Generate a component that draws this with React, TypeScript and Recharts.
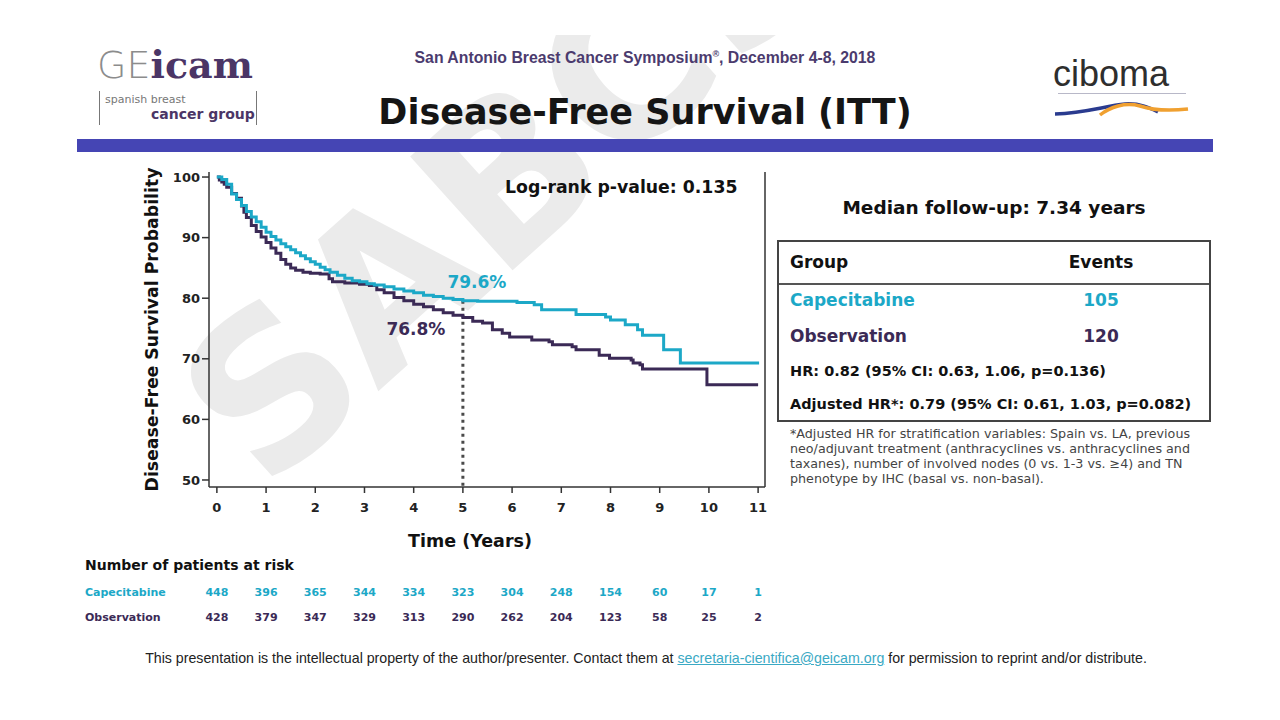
import { LineChart, Line, XAxis, YAxis, ReferenceLine, ReferenceDot, Label } from 'recharts'

// Kaplan-Meier steps (years, % disease-free)
const capeTimes = [0, 0.1, 0.2, 0.3, 0.4, 0.5, 0.6, 0.7, 0.8, 0.9, 1.0, 1.1, 1.2, 1.3, 1.4, 1.5, 1.6, 1.7, 1.8, 1.9, 2.0, 2.1, 2.2, 2.3, 2.45, 2.6, 2.75, 2.9, 3.05, 3.2, 3.4, 3.6, 3.8, 4.0, 4.2, 4.4, 4.6, 4.8, 5.0, 5.3, 6.1, 6.45, 6.6, 7.3, 7.9, 8.0, 8.3, 8.55, 8.65, 9.08, 9.42, 11.02]
const capeSurv = [100, 99.6, 98.8, 97.2, 96.3, 95.3, 94.3, 93.4, 92.6, 91.7, 90.9, 90.2, 89.6, 89.0, 88.5, 88.0, 87.5, 87.0, 86.5, 86.0, 85.6, 85.1, 84.7, 84.3, 83.8, 83.3, 82.9, 82.7, 82.4, 82.2, 81.9, 81.5, 81.2, 80.9, 80.5, 80.3, 80.0, 79.8, 79.6, 79.5, 79.3, 78.9, 78.1, 77.3, 76.9, 76.4, 75.6, 74.8, 73.9, 71.5, 69.3, 69.3]

const obsTimes = [0, 0.05, 0.1, 0.15, 0.2, 0.3, 0.4, 0.5, 0.55, 0.6, 0.7, 0.8, 0.9, 1.0, 1.1, 1.2, 1.3, 1.4, 1.5, 1.6, 1.75, 1.9, 2.1, 2.28, 2.35, 2.6, 2.9, 3.1, 3.25, 3.4, 3.6, 3.8, 4.0, 4.2, 4.4, 4.6, 4.8, 5.0, 5.2, 5.4, 5.6, 5.8, 5.95, 6.4, 6.75, 6.82, 7.22, 7.3, 7.77, 7.98, 8.42, 8.46, 8.6, 8.65, 9.96, 11.0]
const obsSurv = [100, 99.5, 99.2, 98.8, 98.3, 97.3, 96.5, 95.2, 94.2, 93.3, 92.0, 91.0, 90.1, 89.2, 88.3, 87.4, 86.4, 85.6, 85.0, 84.6, 84.3, 84.1, 84.0, 83.2, 82.7, 82.5, 82.3, 82.1, 81.4, 80.9, 80.1, 79.6, 79.0, 78.6, 78.1, 77.6, 77.2, 76.8, 76.2, 75.9, 74.8, 74.2, 73.6, 73.1, 72.8, 72.3, 72.0, 71.5, 70.6, 70.1, 69.8, 69.3, 69.0, 68.3, 65.7, 65.7]

const yearTicks = [0, 1, 2, 3, 4, 5, 6, 7, 8, 9, 10, 11]
const probTicks = [50, 60, 70, 80, 90, 100]

const capeAtRisk = [448, 396, 365, 344, 334, 323, 304, 248, 154, 60, 17, 1]
const obsAtRisk = [428, 379, 347, 329, 313, 290, 262, 204, 123, 58, 25, 2]

const capeRate5y = 79.6
const obsRate5y = 76.8

const CYAN = '#1ca8c7'
const PURPLE = '#3b2a56'
const FONT = '"DejaVu Sans", Verdana, sans-serif'
const ARIAL = '"Liberation Sans", Arial, sans-serif'

const X_MIN = -0.16
const X_MAX = 11.14
const Y_MIN = 48.84
const Y_MAX = 100.83
const PLOT_LEFT = 209
const PLOT_RIGHT = 765

const capeData = capeTimes.map((t, i) => ({ t, s: capeSurv[i] }))
const obsData = obsTimes.map((t, i) => ({ t, s: obsSurv[i] }))

// x position of a year on the page, same mapping as the chart's x scale
function yearX(t: number): number {
  return PLOT_LEFT + ((t - X_MIN) / (X_MAX - X_MIN)) * (PLOT_RIGHT - PLOT_LEFT)
}

function KmChart() {
  return (
    <LineChart
      width={800}
      height={562}
      margin={{ top: 172, right: 800 - PLOT_RIGHT, bottom: 13, left: 151 }}
    >
      <XAxis
        dataKey="t"
        type="number"
        domain={[X_MIN, X_MAX]}
        ticks={yearTicks}
        allowDataOverflow
        height={62}
        tickSize={6}
        tickMargin={10}
        axisLine={{ stroke: '#333', strokeWidth: 1.5 }}
        tickLine={{ stroke: '#333', strokeWidth: 1.5 }}
        tick={{ fill: '#222', fontSize: 13, fontWeight: 700, fontFamily: FONT }}
      >
        <Label
          content={(props: any) => {
            const vb = props.viewBox
            return (
              <text
                x={vb.x + vb.width / 2 - 17}
                y={vb.y + vb.height - 2}
                textAnchor="middle"
                fontSize={17.5}
                fontWeight={700}
                fontFamily={FONT}
                fill="#111"
              >
                Time (Years)
              </text>
            )
          }}
        />
      </XAxis>
      <YAxis
        type="number"
        domain={[Y_MIN, Y_MAX]}
        ticks={probTicks}
        allowDataOverflow
        width={58}
        tickSize={7}
        tickMargin={2}
        axisLine={{ stroke: '#333', strokeWidth: 1.5 }}
        tickLine={{ stroke: '#333', strokeWidth: 1.5 }}
        tick={{ fill: '#222', fontSize: 13, fontWeight: 700, fontFamily: FONT }}
      >
        <Label
          value="Disease-Free Survival Probability"
          angle={-90}
          position="insideLeft"
          offset={1}
          style={{ textAnchor: 'middle', fontSize: 17.3, fontWeight: 700, fontFamily: FONT, fill: '#111' }}
        />
      </YAxis>
      <ReferenceLine x={X_MAX} stroke="#333" strokeWidth={1.5} />
      <ReferenceLine
        segment={[{ x: 5, y: capeRate5y }, { x: 5, y: Y_MIN }]}
        stroke="#4a4a4a"
        strokeWidth={3}
        strokeDasharray="3 4"
      />
      <Line
        data={obsData}
        dataKey="s"
        type="stepAfter"
        stroke={PURPLE}
        strokeWidth={3}
        dot={false}
        isAnimationActive={false}
      />
      <Line
        data={capeData}
        dataKey="s"
        type="stepAfter"
        stroke={CYAN}
        strokeWidth={3}
        dot={false}
        isAnimationActive={false}
      />
      <ReferenceDot
        x={5}
        y={capeRate5y}
        r={0}
        stroke="none"
        label={(props: any) => (
          <text
            x={props.viewBox.x + 14}
            y={props.viewBox.y - 13}
            textAnchor="middle"
            fontSize={17}
            fontWeight={700}
            fontFamily={FONT}
            fill={CYAN}
          >
            {capeRate5y}%
          </text>
        )}
      />
      <ReferenceDot
        x={5}
        y={obsRate5y}
        r={0}
        stroke="none"
        label={(props: any) => (
          <text
            x={props.viewBox.x - 47}
            y={props.viewBox.y + 17}
            textAnchor="middle"
            fontSize={17}
            fontWeight={700}
            fontFamily={FONT}
            fill={PURPLE}
          >
            {obsRate5y}%
          </text>
        )}
      />
    </LineChart>
  )
}

const abs = (left: number, top: number): React.CSSProperties => ({ position: 'absolute', left, top, whiteSpace: 'nowrap' })

export default function App() {
  return (
    <div
      style={{
        position: 'absolute',
        left: 0,
        top: 0,
        width: 1280,
        height: 720,
        background: '#fff',
        overflow: 'hidden',
        fontFamily: FONT,
      }}
    >
      {/* faint watermark, clipped at the slide top like the original */}
      <div style={{ position: 'absolute', left: 0, top: 35, width: 1280, height: 685, overflow: 'hidden' }}>
        <div
          style={{
            ...abs(150, 95),
            fontSize: 210,
            fontWeight: 700,
            color: '#ebebeb',
            transform: 'rotate(-42deg)',
            transformOrigin: '300px 120px',
            lineHeight: 1,
          }}
        >
          SABCS
        </div>
      </div>

      {/* header */}
      <div style={{ ...abs(97, 46), fontSize: 38, lineHeight: 1 }}>
        <span style={{ color: '#8c8c8c', fontWeight: 300, fontFamily: FONT }}>GE</span>
        <span style={{ color: '#4b3566', fontWeight: 700, fontFamily: '"DejaVu Serif", serif' }}>icam</span>
      </div>
      <div style={{ position: 'absolute', left: 99, top: 91, width: 156, height: 34, borderLeft: '1.5px solid #777', borderRight: '1.5px solid #777' }} />
      <div style={{ ...abs(105, 94), fontSize: 11, color: '#777', lineHeight: 1 }}>spanish breast</div>
      <div style={{ ...abs(151, 107), fontSize: 14, fontWeight: 700, color: '#4b3566', lineHeight: 1 }}>cancer group</div>

      <div style={{ ...abs(0, 49), width: 1290, textAlign: 'center', fontFamily: ARIAL, fontSize: 15.8, fontWeight: 700, color: '#4b3b6e' }}>
        San Antonio Breast Cancer Symposium<sup style={{ fontSize: 9 }}>®</sup>, December 4-8, 2018
      </div>
      <div style={{ ...abs(0, 95), width: 1290, textAlign: 'center', fontSize: 35, fontWeight: 700, color: '#151515', lineHeight: 1 }}>
        Disease-Free Survival (ITT)
      </div>

      <div style={{ ...abs(1053, 56), fontFamily: ARIAL, fontSize: 36, color: '#2e2e2e', lineHeight: 1 }}>ciboma</div>
      <div style={{ position: 'absolute', left: 1058, top: 93, width: 128, height: 1, background: '#b8b8c8' }} />
      <svg style={{ position: 'absolute', left: 1050, top: 96 }} width={145} height={26}>
        <path d="M5 18 C 35 17, 55 10, 75 8 C 90 7, 100 12, 108 16" stroke="#2a3b8f" strokeWidth={3.5} fill="none" />
        <path d="M50 19 C 60 11, 75 6, 90 10 C 105 15, 120 15, 138 13" stroke="#f0a030" strokeWidth={3.5} fill="none" />
      </svg>

      <div style={{ position: 'absolute', left: 77, top: 139, width: 1136, height: 13, background: '#4545b4' }} />

      {/* KM plot */}
      <div style={{ position: 'absolute', left: 0, top: 0 }}>
        <KmChart />
      </div>
      <div style={{ ...abs(505, 177), fontSize: 17.3, fontWeight: 700, color: '#111' }}>Log-rank p-value: 0.135</div>

      {/* right panel */}
      <div style={{ ...abs(777, 197), width: 434, textAlign: 'center', fontSize: 18.5, fontWeight: 700, color: '#111' }}>
        Median follow-up: 7.34 years
      </div>
      <div style={{ position: 'absolute', left: 777, top: 240, width: 430, height: 178, border: '2px solid #444' }} />
      <div style={{ position: 'absolute', left: 779, top: 283, width: 430, height: 2, background: '#555' }} />
      <div style={{ ...abs(790, 252), fontSize: 17, fontWeight: 700, color: '#111' }}>Group</div>
      <div style={{ ...abs(1040, 252), width: 122, textAlign: 'center', fontSize: 17, fontWeight: 700, color: '#111' }}>Events</div>
      <div style={{ ...abs(790, 290), fontSize: 17, fontWeight: 700, color: CYAN }}>Capecitabine</div>
      <div style={{ ...abs(1040, 290), width: 122, textAlign: 'center', fontSize: 17, fontWeight: 700, color: CYAN }}>105</div>
      <div style={{ ...abs(790, 326), fontSize: 17, fontWeight: 700, color: PURPLE }}>Observation</div>
      <div style={{ ...abs(1040, 326), width: 122, textAlign: 'center', fontSize: 17, fontWeight: 700, color: PURPLE }}>120</div>
      <div style={{ ...abs(790, 363), fontSize: 14.5, fontWeight: 700, color: '#111' }}>HR: 0.82 (95% CI: 0.63, 1.06, p=0.136)</div>
      <div style={{ ...abs(790, 396), fontSize: 14.5, fontWeight: 700, color: '#111' }}>Adjusted HR*: 0.79 (95% CI: 0.61, 1.03, p=0.082)</div>
      <div style={{ ...abs(790, 426), fontSize: 12.7, lineHeight: '15px', color: '#444' }}>
        *Adjusted HR for stratification variables: Spain vs. LA, previous
        <br />
        neo/adjuvant treatment (anthracyclines vs. anthracyclines and
        <br />
        taxanes), number of involved nodes (0 vs. 1-3 vs. ≥4) and TN
        <br />
        phenotype by IHC (basal vs. non-basal).
      </div>

      {/* patients at risk */}
      <div style={{ ...abs(85, 557), fontSize: 14, fontWeight: 700, color: '#111' }}>Number of patients at risk</div>
      <div style={{ ...abs(85, 586), fontSize: 11, fontWeight: 700, color: CYAN }}>Capecitabine</div>
      <div style={{ ...abs(85, 611), fontSize: 11, fontWeight: 700, color: PURPLE }}>Observation</div>
      {yearTicks.map((t, i) => (
        <div key={'c' + t} style={{ ...abs(yearX(t) - 20, 586), width: 40, textAlign: 'center', fontSize: 11, fontWeight: 700, color: CYAN }}>
          {capeAtRisk[i]}
        </div>
      ))}
      {yearTicks.map((t, i) => (
        <div key={'o' + t} style={{ ...abs(yearX(t) - 20, 611), width: 40, textAlign: 'center', fontSize: 11, fontWeight: 700, color: PURPLE }}>
          {obsAtRisk[i]}
        </div>
      ))}

      {/* footer */}
      <div style={{ ...abs(0, 650), width: 1292, textAlign: 'center', fontFamily: ARIAL, fontSize: 14.2, color: '#222' }}>
        This presentation is the intellectual property of the author/presenter. Contact them at{' '}
        <span style={{ color: '#3aa9c4', textDecoration: 'underline' }}>secretaria-cientifica@geicam.org</span> for permission to reprint and/or distribute.
      </div>
    </div>
  )
}
